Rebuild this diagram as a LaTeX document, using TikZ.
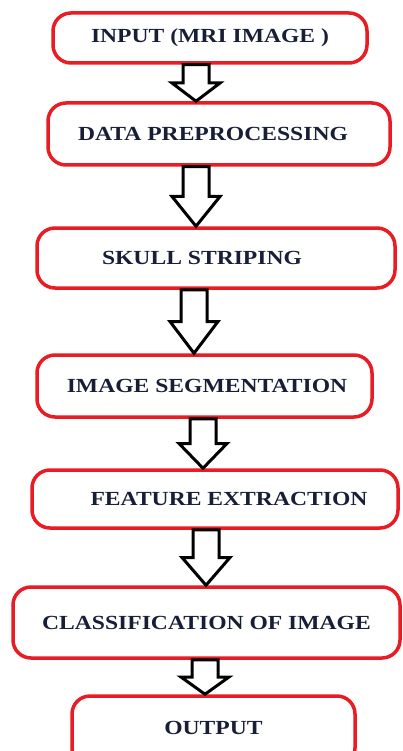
\documentclass[tikz,border=0pt]{standalone}
\usepackage{fontspec}
\newfontfamily\stagefont{Liberation Serif}[FakeStretch=1.18]
\usetikzlibrary{calc}
\definecolor{boxred}{RGB}{232,28,36}
\definecolor{inknavy}{RGB}{25,30,55}
\tikzset{
  stage/.style={draw=boxred, line width=3.5pt, rounded corners=18pt,
    font=\stagefont\bfseries\fontsize{20}{22}\selectfont, text=inknavy,
    inner sep=0pt},
  flowarrow/.style={draw=black, line width=3pt, fill=white, line join=miter,
    to path={let \p1=(\tikztostart), \p2=(\tikztotarget),
      \n1={0.5*(\y1-\y2)} in
      (\x1-13pt,\y1) -- (\x1-13pt,\y2+\n1) -- (\x1-24pt,\y2+\n1) -- (\x2,\y2)
      -- (\x1+24pt,\y2+\n1) -- (\x1+13pt,\y2+\n1) -- (\x1+13pt,\y1) -- cycle}}
}
\begin{document}
\begin{tikzpicture}[x=1pt, y=-1pt]
      \clip (0,0) rectangle (402,751);
      \node[stage, minimum width=314pt, minimum height=50pt] (in) at (210,38)
        {INPUT (MRI IMAGE )};
      \node[stage, minimum width=342pt, minimum height=62pt] (pre) at (219,134)
        {DATA PREPROCESSING\hspace*{12pt}};
      \node[stage, minimum width=358pt, minimum height=60pt] (skull) at (216,258)
        {SKULL STRIPING\hspace*{28pt}};
      \node[stage, minimum width=335pt, minimum height=62pt] (seg) at (204.5,386)
        {\hspace*{5pt}IMAGE SEGMENTATION};
      \node[stage, minimum width=366pt, minimum height=58pt] (feat) at (215,499)
        {\hspace*{28pt}FEATURE EXTRACTION};
      \node[stage, minimum width=387pt, minimum height=71pt] (cls) at (206.5,622.5)
        {CLASSIFICATION OF IMAGE};
      \node[stage, minimum width=283pt, minimum height=70pt] (out) at (213.5,731)
        {\raisebox{7pt}{OUTPUT}};
      \begin{scope}
        \draw[flowarrow] (in.south -| 196,0) to (pre.north -| 196,0);
        \draw[flowarrow] (pre.south -| 196,0) to (skull.north -| 196,0);
        \draw[flowarrow] (skull.south -| 194,0) to (seg.north -| 194,0);
        \draw[flowarrow] (seg.south -| 203,0) to (feat.north -| 203,0);
        \draw[flowarrow] (feat.south -| 206,0) to (cls.north -| 206,0);
        \draw[flowarrow] (cls.south -| 205,0) to (out.north -| 205,0);
      \end{scope}
    \end{tikzpicture}
\end{document}
